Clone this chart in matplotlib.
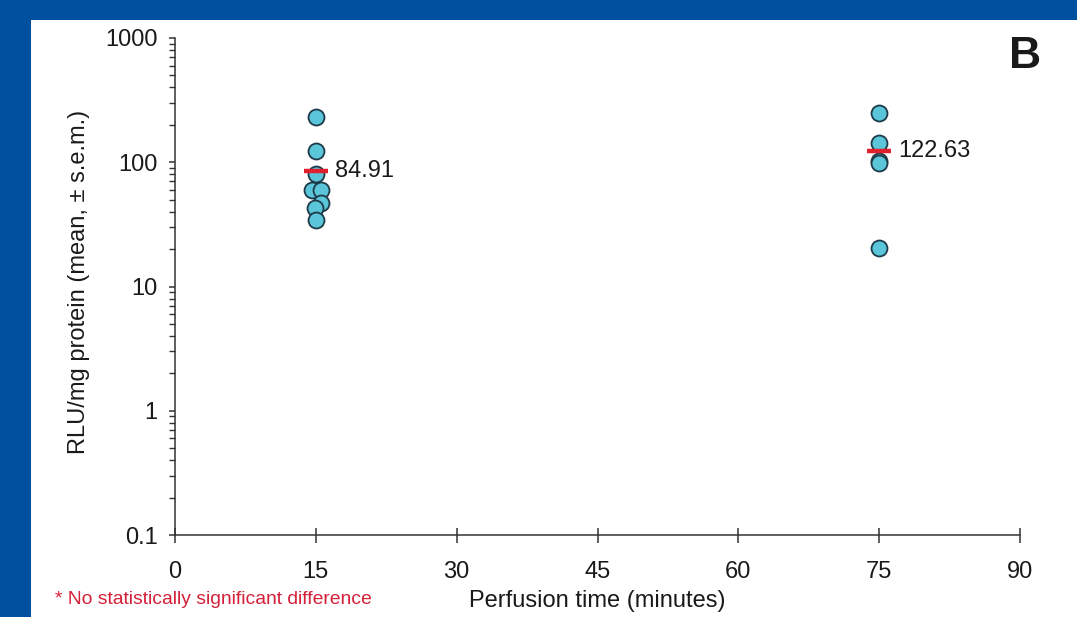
import matplotlib.pyplot as plt
import matplotlib.patches as mpatches
from matplotlib.ticker import LogLocator, NullFormatter
import numpy as np

plt.rcParams['font.family'] = ['Liberation Sans', 'DejaVu Sans']

# luciferase activity per animal, two perfusion times
t15_x = [15.0, 15.0, 15.0, 14.6, 15.5, 15.5, 14.9, 15.0]
t15_y = [232, 123, 80, 60, 60, 47, 43, 34.28]
t75_x = [75.0, 75.0, 75.0, 75.0, 75.0]
t75_y = [248, 143, 103, 98.75, 20.4]

mean_x = [15, 75]
mean_y = [84.91, 122.63]

xticks = [0, 15, 30, 45, 60, 75, 90]
yticks = [0.1, 1, 10, 100, 1000]
ytick_labels = ['0.1', '1', '10', '100', '1000']

FS = 17

W, H = 1077, 617
fig = plt.figure(figsize=(W / 100, H / 100), dpi=100)
fig.patch.set_facecolor('#0050A0')
# white panel inside the blue frame
fig.patches.append(mpatches.Rectangle((31 / W, 0), 1 - 31 / W, (H - 20) / H,
                                      transform=fig.transFigure, facecolor='white',
                                      edgecolor='none', zorder=-10))

ax = fig.add_axes([175 / W, 1 - 535 / H, (1020 - 175) / W, (535 - 38) / H])
ax.set_facecolor('none')

dot = dict(marker='o', ms=11.5, mfc='#5BC5DA', mec='#1E3A48', mew=1.3, ls='none', zorder=3)
ax.plot(t15_x, t15_y, **dot)
ax.plot(t75_x, t75_y, **dot)

for x, m in zip(mean_x, mean_y):
    ax.plot([x - 1.3, x + 1.3], [m, m], color='#E0202E', lw=3.2, solid_capstyle='butt', zorder=4)
    ax.annotate(f'{m:.2f}', (x, m), xytext=(13.5, 0), textcoords='offset points',
                va='center', ha='left', fontsize=FS, color='#1a1a1a')

ax.set_yscale('log')
ax.set_xlim(0, 90)
ax.set_ylim(0.1, 1000)
ax.set_xticks(xticks)
ax.set_yticks(yticks)
ax.set_yticklabels(ytick_labels)
ax.yaxis.set_minor_locator(LogLocator(base=10, subs=np.arange(2, 10)))
ax.yaxis.set_minor_formatter(NullFormatter())

for s in ['top', 'right']:
    ax.spines[s].set_visible(False)
for s in ['left', 'bottom']:
    ax.spines[s].set_color('#333333')
    ax.spines[s].set_linewidth(1.1)

ax.tick_params(axis='x', direction='inout', length=10.8, width=1.1, color='#333333',
               pad=13.5, labelsize=FS, labelcolor='#1a1a1a')
ax.tick_params(axis='y', which='major', direction='out', length=4.5, width=1.1,
               color='#333333', pad=8, labelsize=FS, labelcolor='#1a1a1a')
ax.tick_params(axis='y', which='minor', direction='out', length=4.5, width=1.0,
               color='#333333')

ax.set_xlabel('Perfusion time (minutes)', fontsize=FS, color='#1a1a1a', labelpad=5)
ax.set_ylabel('RLU/mg protein (mean, \u00b1 s.e.m.)', fontsize=FS, color='#1a1a1a',
              labelpad=11)
ax.yaxis.label.set_y(0.51)

fig.text(1025 / W, 1 - 56 / H, 'B', fontsize=32, fontweight='bold', color='#1a1a1a',
         ha='center', va='center')
fig.text(55 / W, 1 - 600 / H, '* No statistically significant difference', fontsize=13.9,
         color='#D42038', ha='left', va='center')

fig.savefig('out.png', dpi=100, facecolor=fig.get_facecolor())
